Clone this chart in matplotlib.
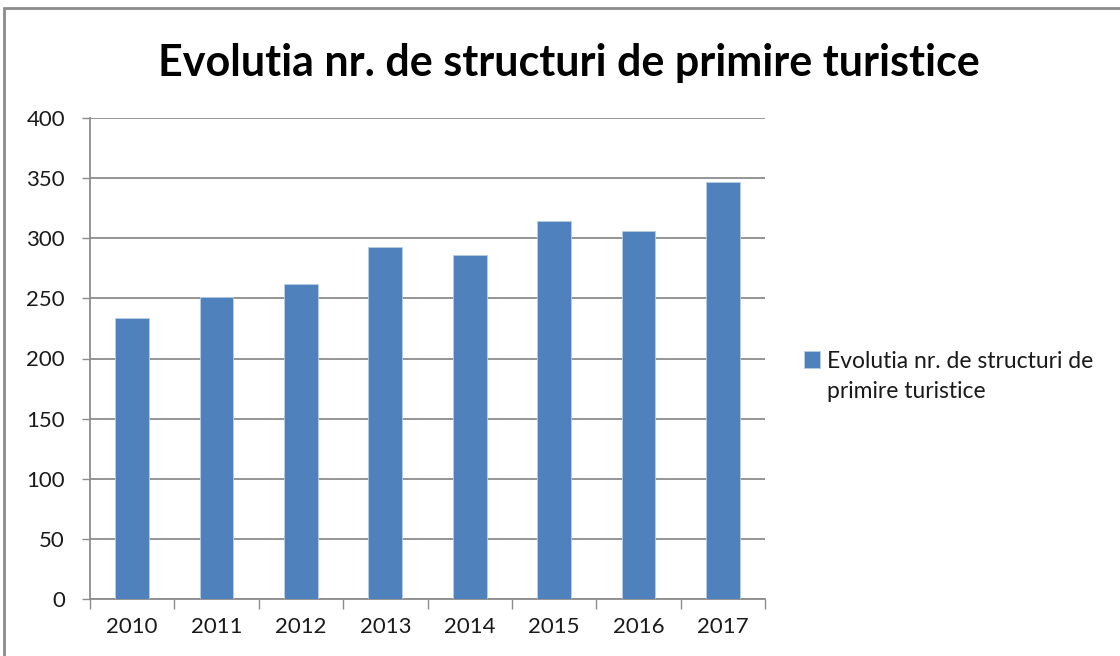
import matplotlib
matplotlib.use("Agg")
import matplotlib.pyplot as plt
from matplotlib.patches import Rectangle

years = ["2010", "2011", "2012", "2013", "2014", "2015", "2016", "2017"]
values = [234, 251, 262, 293, 286, 314, 306, 347]
series_label = "Evolutia nr. de structuri de\nprimire turistice"
title = "Evolutia nr. de structuri de primire turistice"
yticks = [0, 50, 100, 150, 200, 250, 300, 350, 400]

plt.rcParams['font.family'] = ['Lato', 'DejaVu Sans']

W, H = 1120, 656
fig = plt.figure(figsize=(W / 100, H / 100), dpi=100)
ax = fig.add_axes([90 / W, 1 - 599 / H, (765 - 90) / W, (599 - 118) / H])

x = list(range(len(years)))
bars = ax.bar(x, values, width=0.4, color="#4F81BD", edgecolor="#B9CDE5",
              linewidth=0.6, label=series_label, zorder=3)

ax.set_xlim(-0.5, len(years) - 0.5)
ax.set_ylim(0, 400)
ax.set_yticks(yticks)
ax.set_yticklabels([str(v) for v in yticks])
ax.set_xticks(x)
ax.set_xticklabels(years)
ax.yaxis.grid(True, color="#8C8C8C", linewidth=1.3, zorder=0)
ax.set_axisbelow(True)

for s in ["top", "right"]:
    ax.spines[s].set_visible(False)
for s in ["left", "bottom"]:
    ax.spines[s].set_color("#8C8C8C")
    ax.spines[s].set_linewidth(1.3)

ax.tick_params(axis="y", length=6, color="#8C8C8C", width=1.0, labelsize=16,
               pad=12, labelcolor="#1a1a1a")
ax.tick_params(axis="x", length=0, labelsize=16, pad=13, labelcolor="#1a1a1a")
ax.set_xticks([i - 0.5 for i in range(len(years) + 1)], minor=True)
ax.tick_params(axis="x", which="minor", length=7, color="#8C8C8C", width=1.0)

fig.text(0.5 * (152 + 985) / W, 1 - 63 / H, title, ha="center", va="center",
         fontsize=31, fontweight="bold", color="black")

lines = series_label.split("\n")
leg = fig.legend(handles=[bars], labels=[lines[0]],
                 loc="center left", bbox_to_anchor=(795 / W, 1 - 361 / H),
                 frameon=False, fontsize=16.5, handlelength=0.7, handleheight=0.7,
                 handletextpad=0.3, borderaxespad=0)
for t in leg.get_texts():
    t.set_color("#1a1a1a")

fig.canvas.draw()
bb = leg.get_texts()[0].get_window_extent()
for i, ln in enumerate(lines[1:], start=1):
    fig.text(bb.x0 / W, (bb.y0 - 31 * i) / H, ln, ha="left", va="bottom",
             fontsize=16.5, color="#1a1a1a")

fig.patches.append(Rectangle((4 / W, -0.1), 1.2, (1 - 8 / H) + 0.1,
                             transform=fig.transFigure, fill=False,
                             edgecolor="#8C8C8C", linewidth=2))

fig.savefig("out.png", dpi=100)
